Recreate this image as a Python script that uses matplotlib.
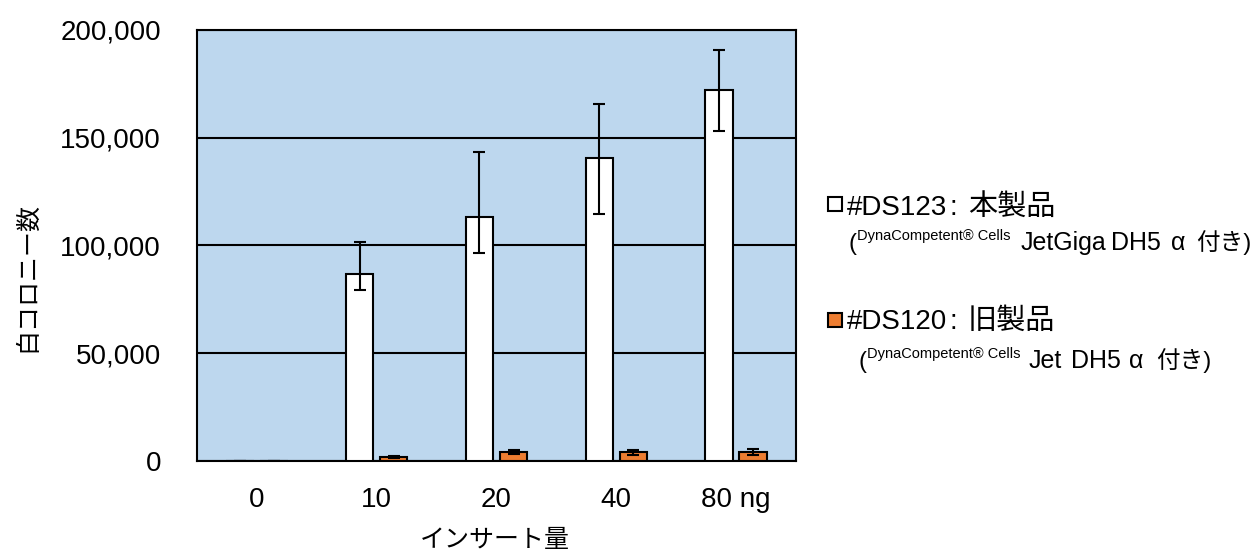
import matplotlib
matplotlib.use("Agg")
import matplotlib.pyplot as plt
import numpy as np
from matplotlib.patches import Rectangle

plt.rcParams['font.family'] = ['Liberation Sans', 'Noto Sans CJK JP', 'DejaVu Sans']

categories = ["0", "10", "20", "40", "80 ng"]
new_vals = [200, 87000, 113400, 140700, 172300]
new_err_low = [0, 7600, 16700, 26100, 19000]
new_err_high = [0, 14800, 29800, 25000, 18300]
old_vals = [200, 2000, 4200, 4100, 4200]
old_err = [0, 500, 1000, 1100, 1200]
yticks = [0, 50000, 100000, 150000, 200000]

W, H = 1255, 556
fig = plt.figure(figsize=(W / 100, H / 100), dpi=100)
ax = fig.add_axes([197 / W, 1 - 461 / H, (796 - 197) / W, (461 - 30) / H])
ax.set_facecolor('#BDD7EE')

x = np.arange(len(categories))
bw = 0.228
off = 0.142
ax.set_axisbelow(True)
ax.yaxis.grid(True, color='black', linewidth=1.5)
ax.bar(x - off, new_vals, bw, color='white', edgecolor='black', linewidth=1.5,
       yerr=[new_err_low, new_err_high],
       error_kw=dict(ecolor='black', elinewidth=1.5, capsize=4, capthick=1.5), zorder=3)
ax.bar(x + off, old_vals, bw, color='#ED7D31', edgecolor='black', linewidth=1.5,
       yerr=old_err,
       error_kw=dict(ecolor='black', elinewidth=1.5, capsize=4, capthick=1.5), zorder=3)

ax.set_xlim(-0.5, len(categories) - 0.5)
ax.set_ylim(0, 200000)
ax.set_yticks(yticks)
ax.set_yticklabels([f"{v:,}" for v in yticks], fontsize=20)
ax.set_xticks(x)
ax.set_xticklabels(categories, fontsize=20)
ax.tick_params(axis='y', length=0, pad=26)
ax.tick_params(axis='x', length=0, pad=19)
for s in ax.spines.values():
    s.set_linewidth(1.5)
    s.set_color('black')

def px(xp, yp):
    return xp / W, 1 - yp / H

fig.text(*px(495, 540), "インサート量", fontsize=18, ha='center', va='center')
fig.text(*px(27, 277), "白コロニー数", fontsize=18, ha='center', va='center', rotation=90)

# legend markers
for (y0, col) in [(197, 'white'), (313, '#ED7D31')]:
    fig.add_artist(Rectangle(px(828, y0 + 14), 14 / W, 14 / H, transform=fig.transFigure,
                             facecolor=col, edgecolor='black', linewidth=1.5))

# legend entry 1
fig.text(*px(847, 215), "#DS123", fontsize=20, va='baseline', ha='left')
fig.text(*px(950, 215), ":", fontsize=20, va='baseline', ha='left')
fig.text(*px(968, 215), "本製品", fontsize=21, va='baseline', ha='left')
fig.text(*px(849, 250), "(", fontsize=17, va='baseline', ha='left')
fig.text(*px(857, 240), "DynaCompetent® Cells", fontsize=10.5, va='baseline', ha='left')
fig.text(*px(1021, 250), "JetGiga", fontsize=18, va='baseline', ha='left')
fig.text(*px(1111, 250), "DH5", fontsize=18, va='baseline', ha='left')
fig.text(*px(1171, 250), "α", fontsize=18, va='baseline', ha='left')
fig.text(*px(1196, 250), "付き)", fontsize=17, va='baseline', ha='left')

# legend entry 2
fig.text(*px(847, 329), "#DS120", fontsize=20, va='baseline', ha='left')
fig.text(*px(950, 329), ":", fontsize=20, va='baseline', ha='left')
fig.text(*px(968, 329), "旧製品", fontsize=21, va='baseline', ha='left')
fig.text(*px(858, 368), "(", fontsize=17, va='baseline', ha='left')
fig.text(*px(867, 358), "DynaCompetent® Cells", fontsize=10.5, va='baseline', ha='left')
fig.text(*px(1029, 368), "Jet", fontsize=18, va='baseline', ha='left')
fig.text(*px(1071, 368), "DH5", fontsize=18, va='baseline', ha='left')
fig.text(*px(1129, 368), "α", fontsize=18, va='baseline', ha='left')
fig.text(*px(1156, 368), "付き)", fontsize=17, va='baseline', ha='left')

fig.savefig("out.png", dpi=100)
